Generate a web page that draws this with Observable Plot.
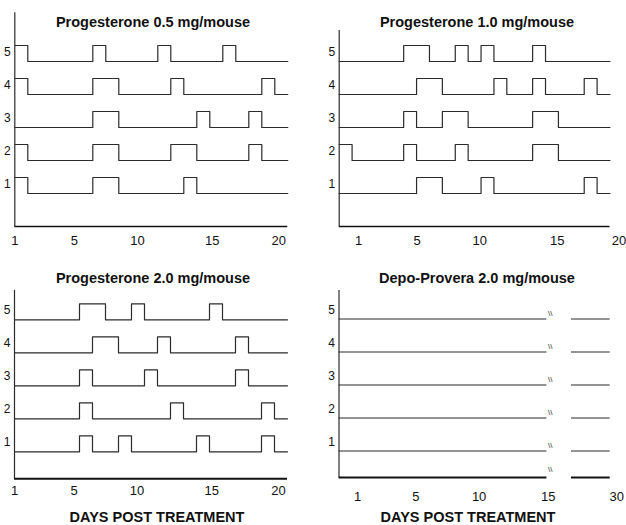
<!DOCTYPE html>
<html><head><meta charset="utf-8">
<script src="https://cdn.jsdelivr.net/npm/d3@7"></script>
<script src="https://cdn.jsdelivr.net/npm/@observablehq/plot@0.6"></script>
<style>
body{margin:0;background:#fff;}
#wrap{position:relative;width:626px;height:525px;font-family:"Liberation Sans",Arial,sans-serif;overflow:hidden;}
#wrap svg{position:absolute;left:0;top:0;}
.ttl{position:absolute;font-weight:bold;font-size:14.5px;line-height:14.5px;transform:translateX(-50%);white-space:nowrap;color:#111;}
</style></head><body><div id="wrap"></div>
<script>
// ---------- data ----------
const mice = [1, 2, 3, 4, 5];
// estrous state per day cell (1 = raised step, 0 = baseline), mice 1..5
const prog05 = [
  "100000110000010000000",
  "100000110000110000100",
  "000000110000001000100",
  "100000110000100000010",
  "100000100001000010000"
];
const prog10 = [
  "000000110001000000010",
  "100001000100000110000",
  "000001001100000110000",
  "000000110000100100010",
  "000001100101000100000"
];
const prog20 = [
  "000001001000001000010",
  "000001000000100000010",
  "000001000010000001000",
  "000000110001000001000",
  "000001100100000100000"
];
// Depo-Provera: no cycling, flat baseline, axis broken after day 15
const depoSegments = [[0, 16.1], [18, 21]];
const depoBreakAt = 16.35;

// tick labels and where they sit along each panel's day grid
const ticksLeftLabels = ["1", "5", "10", "15", "20"];
const ticksLeftPos = [0, 4.58, 9.43, 15.18, 20.3];
const ticksB_Labels = ["1", "5", "10", "15", "20"];
const ticksB_Pos = [1.5, 6.05, 10.9, 16.9, 21.7];
const ticksD_Labels = ["1", "5", "10", "15", "30"];
const ticksD_Pos = [1.45, 5.95, 10.85, 16.2, 21.5];

const titles = ["Progesterone 0.5 mg/mouse", "Progesterone 1.0 mg/mouse",
                "Progesterone 2.0 mg/mouse", "Depo-Provera 2.0 mg/mouse"];
const xLabel = "DAYS POST TREATMENT";

// ---------- drawing ----------
const STEP = 0.485;
const INK = "#2b2b2b";
const wrap = document.getElementById("wrap");

function stepPoints(rows) {
  const pts = [];
  rows.forEach((s, i) => {
    const m = mice[i];
    for (let d = 0; d < s.length; d++) pts.push({mouse: m, x: d, y: m + STEP * (+s[d])});
    pts.push({mouse: m, x: s.length, y: m + STEP * (+s[s.length - 1])});
  });
  return pts;
}

function panel(cfg) {
  const marks = [];
  // y axis line
  marks.push(Plot.ruleX([0], {y1: cfg.yBase, y2: cfg.yTop, stroke: INK, strokeWidth: 1.2}));
  if (cfg.rows) {
    marks.push(Plot.ruleY([cfg.yBase], {x1: 0, x2: 21, stroke: "#111", strokeWidth: cfg.axisW}));
    marks.push(Plot.line(stepPoints(cfg.rows), {x: "x", y: "y", z: "mouse", curve: "step-after", stroke: INK, strokeWidth: 1.2}));
  } else {
    const segs = [];
    mice.forEach(m => depoSegments.forEach(([a, b]) => segs.push({y: m, x1: a, x2: b})));
    marks.push(Plot.ruleY(segs, {y: "y", x1: "x1", x2: "x2", stroke: INK, strokeWidth: 1.2}));
    marks.push(Plot.ruleY(depoSegments, {y: cfg.yBase, x1: d => d[0], x2: d => d[1], stroke: "#111", strokeWidth: cfg.axisW}));
    marks.push(Plot.text(mice, {x: depoBreakAt, y: d => d + 0.17, text: () => "\\\\", fontSize: 8, fill: INK}));
    marks.push(Plot.text([cfg.yBase], {x: depoBreakAt, y: d => d + 0.25, text: () => "\\\\", fontSize: 8, fill: INK}));
  }
  // row labels
  marks.push(Plot.text(mice, {x: 0, y: d => d + 0.28, text: d => String(d), textAnchor: "end", dx: -4, fontSize: 12, fill: "#111"}));
  // tick labels
  marks.push(Plot.text(cfg.tickLabels, {x: (d, i) => cfg.tickPos[i], y: cfg.yBase, text: d => d, dy: cfg.tickDy, fontSize: 13, fill: "#111"}));
  const svg = Plot.plot({
    width: 626, height: 525, margin: 0,
    x: {domain: [0, 21], range: cfg.xRange, axis: null},
    y: {domain: [0, 6.5], range: cfg.yRange, axis: null},
    style: {background: "transparent", overflow: "visible", fontFamily: "Liberation Sans, Arial, sans-serif"},
    marks
  });
  wrap.appendChild(svg);
}

panel({rows: prog05, xRange: [14.3, 287.3], yRange: [226, 11.5], yBase: 0, yTop: 6.48, axisW: 1.5,
       tickLabels: ticksLeftLabels, tickPos: ticksLeftPos, tickDy: 14.5});
panel({rows: prog10, xRange: [338.7, 609.5], yRange: [226, 11.5], yBase: 0, yTop: 5.94, axisW: 1.5,
       tickLabels: ticksB_Labels, tickPos: ticksB_Pos, tickDy: 14.5});
panel({rows: prog20, xRange: [14, 287], yRange: [484.3, 269.8], yBase: 0.18, yTop: 5.89, axisW: 2,
       tickLabels: ticksLeftLabels, tickPos: ticksLeftPos, tickDy: 12});
panel({rows: null, xRange: [338.5, 609.7], yRange: [483.5, 269], yBase: 0.2, yTop: 5.86, axisW: 2,
       tickLabels: ticksD_Labels, tickPos: ticksD_Pos, tickDy: 19});

const titlePos = [[153, 14.7], [477, 14.7], [153, 271], [477, 271]];
titles.forEach((t, i) => {
  const d = document.createElement("div");
  d.className = "ttl"; d.textContent = t;
  d.style.left = titlePos[i][0] + "px"; d.style.top = titlePos[i][1] + "px";
  wrap.appendChild(d);
});
[[157, 509.5], [468, 509.5]].forEach(([x, y]) => {
  const d = document.createElement("div");
  d.className = "ttl"; d.textContent = xLabel;
  d.style.left = x + "px"; d.style.top = y + "px";
  wrap.appendChild(d);
});
</script></body></html>
